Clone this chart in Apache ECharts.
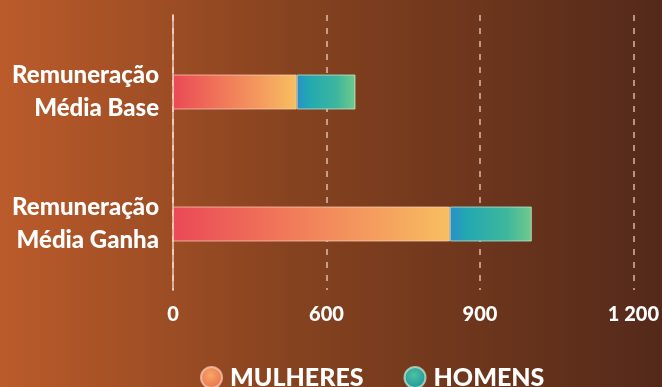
<!DOCTYPE html>
<html><head><meta charset="utf-8">
<script src="https://cdn.jsdelivr.net/npm/echarts@6/dist/echarts.min.js"></script>
<style>html,body{margin:0;padding:0;}#c{width:662px;height:387px;}</style>
</head><body><div id="c"></div>
<script>
// Data (axis units: each tick step = 300 units of bar length)
const categories = ['Remuneração\nMédia Base', 'Remuneração\nMédia Ganha'];
const seriesNames = ['MULHERES', 'HOMENS'];
const mulheres = [240, 537];
const homens = [114, 159];
const tickLabels = ['0', '600', '900', '1 200'];
const tickStep = 300;

const chart = echarts.init(document.getElementById('c'));
const font = 'Lato, "Open Sans", sans-serif';
const lin = (stops) => new echarts.graphic.LinearGradient(0, 0, 1, 0, stops.map((c, i) => ({offset: c[0], color: c[1]})));

chart.setOption({
  backgroundColor: lin([[0, '#bb5b2b'], [0.45, '#85421f'], [1, '#54291a']]),
  animation: false,
  grid: [
    {left: 173, right: 25, top: 26, height: 264},
    {left: 173, right: 25, top: 15, height: 275}
  ],
  legend: {
    top: 360, left: 195,
    itemWidth: 21, itemHeight: 21, itemGap: 40,
    icon: 'circle',
    textStyle: {color: '#fff', fontSize: 25, fontWeight: 900, fontFamily: font, padding: [0, 0, 0, 3]},
    data: [
      {name: seriesNames[0], itemStyle: {color: new echarts.graphic.RadialGradient(0.45, 0.4, 0.6, [{offset: 0, color: '#f7a765'}, {offset: 1, color: '#e9724e'}])}},
      {name: seriesNames[1], itemStyle: {color: new echarts.graphic.RadialGradient(0.45, 0.4, 0.6, [{offset: 0, color: '#4fc0a0'}, {offset: 1, color: '#1f97a0'}])}}
    ]
  },
  xAxis: [
    {gridIndex: 0, type: 'value', min: 0, max: tickStep * (tickLabels.length - 1), interval: tickStep, show: false},
    {gridIndex: 1, type: 'value', min: 0, max: tickStep * (tickLabels.length - 1), interval: tickStep,
      axisLine: {show: false}, axisTick: {show: false},
      axisLabel: {color: '#fff', fontSize: 20, fontWeight: 900, fontFamily: font, margin: 15,
        formatter: (v) => tickLabels[Math.round(v / tickStep)]},
      splitLine: {show: true, lineStyle: {color: 'rgba(255,235,225,0.55)', width: 2, type: [6, 7]}}
    }
  ],
  yAxis: [
    {gridIndex: 0, type: 'category', data: categories, inverse: true,
      axisLine: {show: false}, axisTick: {show: false},
      axisLabel: {color: '#fff', fontSize: 24, fontWeight: 900, fontFamily: font, lineHeight: 33, margin: 14, align: 'right'}
    },
    {gridIndex: 1, type: 'value', min: 0, max: 1,
      axisLine: {show: true, lineStyle: {color: 'rgba(255,225,215,0.65)', width: 2}},
      axisTick: {show: false}, axisLabel: {show: false}, splitLine: {show: false}
    }
  ],
  series: [
    {name: seriesNames[0], type: 'bar', stack: 'a', xAxisIndex: 0, yAxisIndex: 0, barWidth: 35, data: mulheres,
      itemStyle: {color: lin([[0, '#ea4956'], [0.35, '#f07259'], [0.75, '#f5a05f'], [1, '#f7bf60']]),
        borderColor: 'rgba(255,210,190,0.7)', borderWidth: 1}},
    {name: seriesNames[1], type: 'bar', stack: 'a', xAxisIndex: 0, yAxisIndex: 0, barWidth: 35, data: homens,
      itemStyle: {color: lin([[0, '#2a8fca'], [0.2, '#22a8b2'], [0.7, '#3fb79c'], [1, '#72ca8a']]),
        borderColor: 'rgba(200,240,220,0.7)', borderWidth: 1}}
  ]
});
</script></body></html>
